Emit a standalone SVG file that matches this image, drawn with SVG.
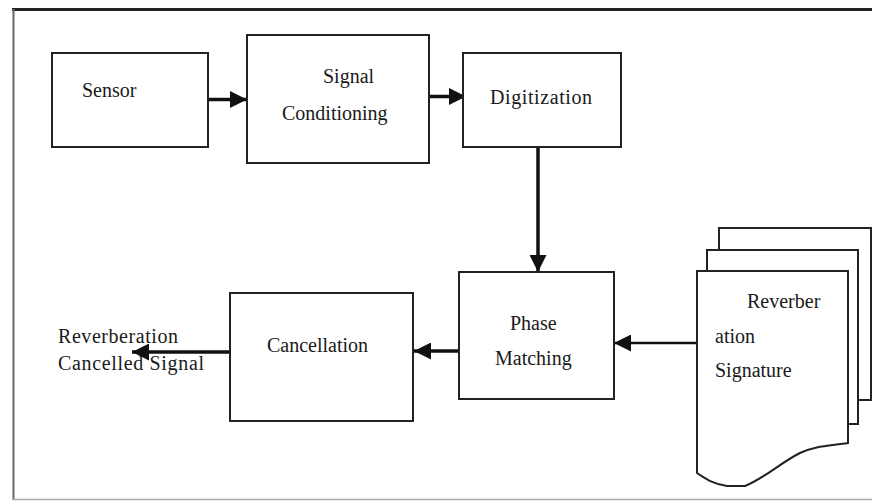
<svg xmlns="http://www.w3.org/2000/svg" width="872" height="501" viewBox="0 0 872 501">
  <defs>
    <style>
      .box { fill: #ffffff; stroke: #222222; stroke-width: 2; }
      .sheet { fill: #ffffff; stroke: #222222; stroke-width: 2; }
      .lbl { font-family: "Liberation Serif", "Times New Roman", serif; font-size: 20px; fill: #1a1a1a; }
      .wire { stroke: #111111; stroke-width: 3.5; fill: none; }
      .thin { stroke: #111111; stroke-width: 2.5; fill: none; }
    </style>
    <marker id="head" viewBox="0 0 10 10" refX="10" refY="5" markerUnits="userSpaceOnUse" markerWidth="17" markerHeight="17" orient="auto">
      <path d="M0,0 L10,5 L0,10 Z" fill="#111111"/>
    </marker>
  </defs>

  <rect width="872" height="501" fill="#ffffff"/>

  <!-- frame -->
  <g id="frame">
    <line x1="12" y1="9.5" x2="872" y2="9.5" stroke="#222222" stroke-width="3"/>
    <line x1="13.5" y1="9" x2="13.5" y2="500" stroke="#666666" stroke-width="2"/>
    <line x1="12" y1="499.5" x2="872" y2="499.5" stroke="#aaaaaa" stroke-width="1.5"/>
  </g>

  <!-- connectors -->
  <g id="connectors">
    <line class="wire" x1="208" y1="99.5" x2="247" y2="99.5" marker-end="url(#head)"/>
    <line class="wire" x1="429" y1="96.5" x2="466" y2="96.5" marker-end="url(#head)"/>
    <line class="wire" x1="538" y1="147" x2="538" y2="272" marker-end="url(#head)"/>
    <line class="thin" x1="697" y1="343" x2="614" y2="343" marker-end="url(#head)"/>
    <line class="wire" x1="459" y1="351" x2="414" y2="351" marker-end="url(#head)"/>
    <line class="wire" x1="230" y1="352" x2="132" y2="352" marker-end="url(#head)"/>
  </g>

  <g id="sensor">
    <rect class="box" x="52" y="53" width="156" height="94"/>
    <text class="lbl" x="82" y="97">Sensor</text>
  </g>

  <g id="signal-conditioning">
    <rect class="box" x="247" y="35" width="182" height="128"/>
    <text class="lbl" x="323" y="83">Signal</text>
    <text class="lbl" x="282" y="120">Conditioning</text>
  </g>

  <g id="digitization">
    <rect class="box" x="463" y="53" width="158" height="94"/>
    <text class="lbl" x="490" y="104" textLength="102">Digitization</text>
  </g>

  <g id="phase-matching">
    <rect class="box" x="459" y="272" width="155" height="127"/>
    <text class="lbl" x="510" y="330">Phase</text>
    <text class="lbl" x="495" y="365">Matching</text>
  </g>

  <g id="cancellation">
    <rect class="box" x="230" y="293" width="183" height="128"/>
    <text class="lbl" x="267" y="352">Cancellation</text>
  </g>

  <g id="output">
    <text class="lbl" x="58" y="343" textLength="120">Reverberation</text>
    <text class="lbl" x="58" y="370" textLength="146">Cancelled Signal</text>
  </g>

  <g id="reverberation-signature">
    <rect class="sheet" x="719" y="228" width="152" height="172"/>
    <rect class="sheet" x="707" y="250" width="151" height="174"/>
    <path class="sheet" d="M697,271 L848,271 L848,443 C828,446 815,446 800,453 C780,463 765,478 745,486 L727,486 C712,484 705,478 697,473 Z"/>
    <text class="lbl" x="747" y="308">Reverber</text>
    <text class="lbl" x="715" y="343">ation</text>
    <text class="lbl" x="715" y="377">Signature</text>
  </g>
</svg>
